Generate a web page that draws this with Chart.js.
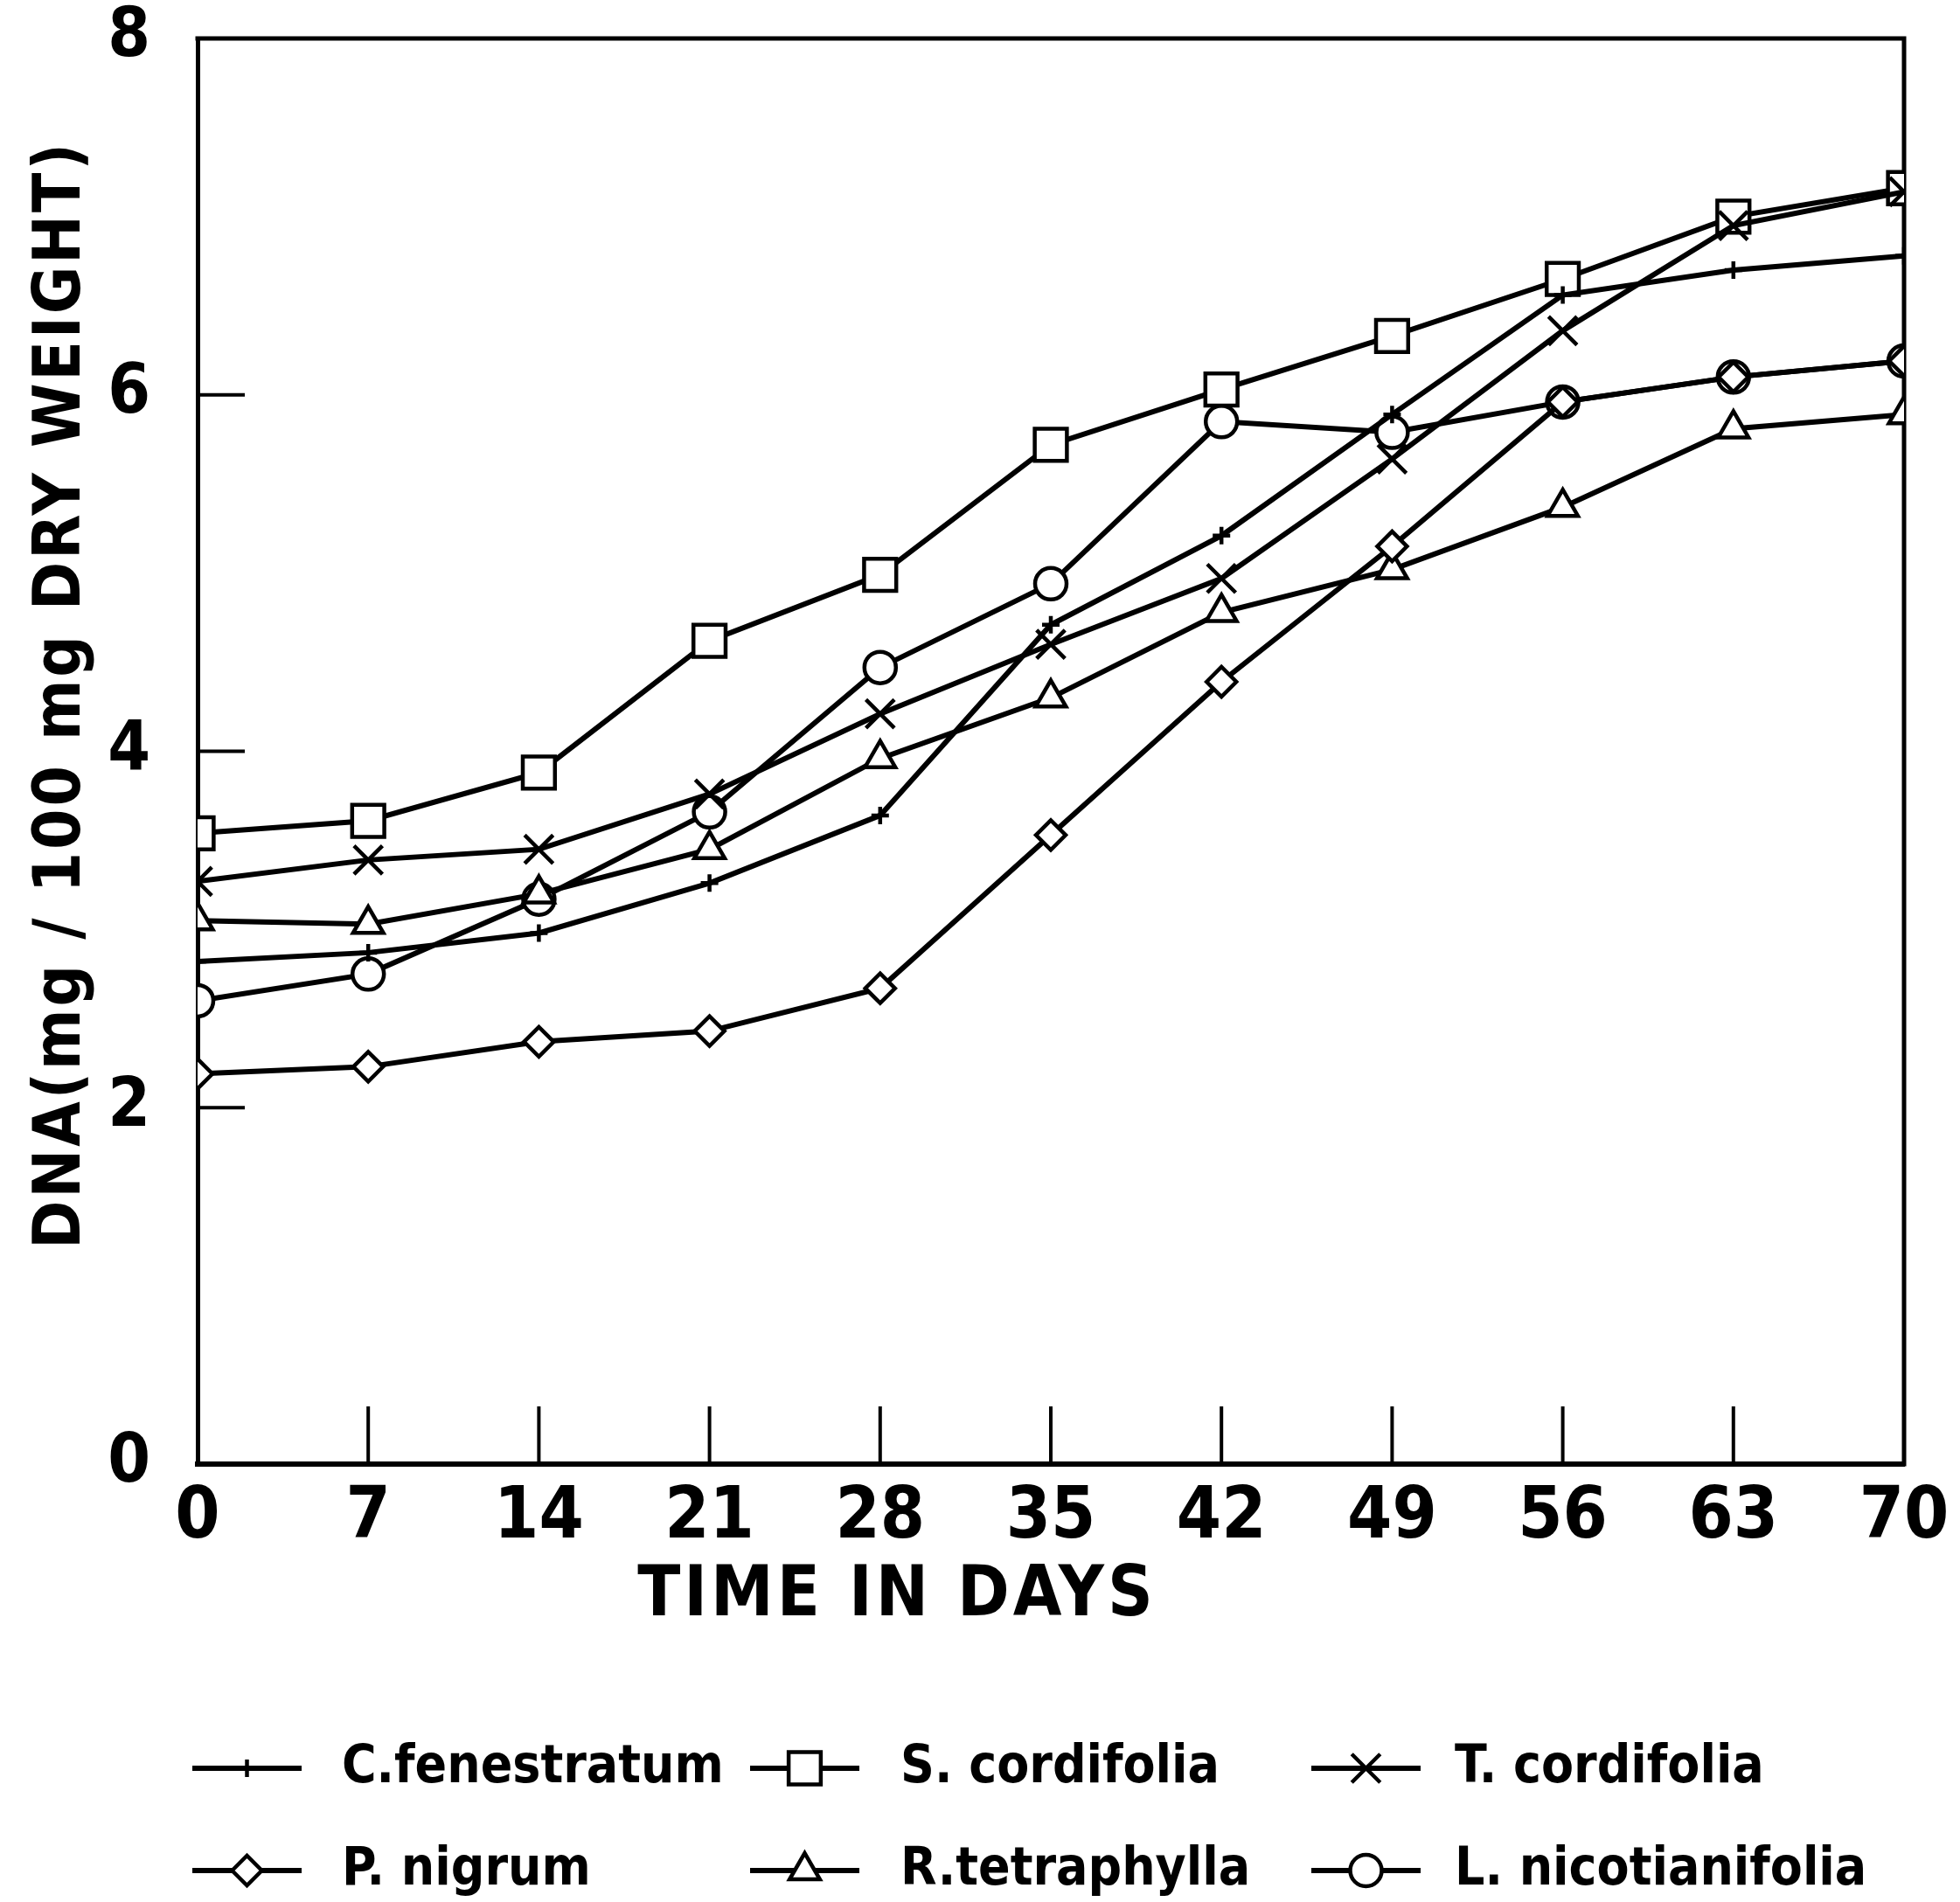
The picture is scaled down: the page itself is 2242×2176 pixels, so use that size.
<!DOCTYPE html>
<html>
<head>
<meta charset="utf-8">
<script src="https://cdn.jsdelivr.net/npm/chart.js@4.4.0/dist/chart.umd.min.js"></script>
<style>
  html, body { margin: 0; padding: 0; background: #fff; }
</style>
</head>
<body>
<canvas id="myChart" width="2242" height="2176"></canvas>
<script>
// values
const days = [0, 7, 14, 21, 28, 35, 42, 49, 56, 63, 70];
const cFenestratum = [2.82, 2.87, 2.98, 3.26, 3.64, 4.71, 5.21, 5.89, 6.56, 6.70, 6.78];
const sCordifolia = [3.54, 3.61, 3.88, 4.62, 4.99, 5.72, 6.03, 6.33, 6.65, 7.00, 7.16];
const tCordifolia = [3.27, 3.39, 3.45, 3.76, 4.21, 4.60, 4.97, 5.64, 6.36, 6.95, 7.14];
const pNigrum = [2.19, 2.23, 2.37, 2.43, 2.67, 3.53, 4.39, 5.15, 5.96, 6.10, 6.19];
const rTetraphylla = [3.05, 3.03, 3.20, 3.45, 3.96, 4.30, 4.78, 5.02, 5.37, 5.81, 5.89];
const lNicotianifolia = [2.60, 2.75, 3.17, 3.66, 4.47, 4.94, 5.85, 5.79, 5.96, 6.10, 6.19];

const seriesNames = ['C.fenestratum', 'S. cordifolia', 'T. cordifolia', 'P. nigrum', 'R.tetraphylla', 'L. nicotianifolia'];
const yTicks = [0, 2, 4, 6, 8];
const xTitle = 'TIME IN DAYS';
const yTitle = 'DNA(mg / 100 mg DRY WEIGHT)';

const FONT = '"DejaVu Sans Condensed", "DejaVu Sans", sans-serif';

function pts(values) {
    return days.map((d, i) => ({ x: d, y: values[i] }));
}

function series(label, values, pointStyle, radius, order) {
    return {
        label: label,
        data: pts(values),
        borderColor: '#000',
        borderWidth: 6,
        pointStyle: pointStyle,
        pointRadius: radius,
        pointHoverRadius: radius,
        pointBackgroundColor: '#fff',
        pointBorderColor: '#000',
        pointBorderWidth: 4.5,
        tension: 0,
        order: order
    };
}

const datasets = [
    series(seriesNames[0], cFenestratum, 'cross', 10, 0),
    series(seriesNames[1], sCordifolia, 'rect', 26, 0),
    series(seriesNames[2], tCordifolia, 'crossRot', 23, -1),
    series(seriesNames[3], pNigrum, 'rectRot', 17, 0),
    series(seriesNames[4], rTetraphylla, 'triangle', 20, 0),
    series(seriesNames[5], lNicotianifolia, 'circle', 18, 0)
];

const framePlugin = {
    id: 'frame',
    beforeDatasetsDraw(chart) {
        const { ctx, chartArea: a, scales: { x, y } } = chart;
        ctx.save();
        ctx.strokeStyle = '#000';
        ctx.lineCap = 'square';
        ctx.lineWidth = 5;
        ctx.beginPath();
        ctx.moveTo(a.left, a.top);
        ctx.lineTo(a.right, a.top);
        ctx.lineTo(a.right, a.bottom);
        ctx.stroke();

        // short ticks pointing into the plot
        ctx.lineWidth = 4;
        ctx.lineCap = 'butt';
        ctx.beginPath();
        yTicks.slice(1, -1).forEach(v => {
            const py = y.getPixelForValue(v);
            ctx.moveTo(a.left, py);
            ctx.lineTo(a.left + 54, py);
        });
        days.slice(1, -1).forEach(v => {
            const px = x.getPixelForValue(v);
            ctx.moveTo(px, a.bottom);
            ctx.lineTo(px, a.bottom - 66);
        });
        ctx.stroke();
        ctx.restore();
    },
    afterDraw(chart) {
        const ctx = chart.ctx;
        ctx.save();
        ctx.fillStyle = '#000';
        ctx.textBaseline = 'middle';

        // axis titles
        ctx.textAlign = 'center';
        ctx.font = 'bold 80px ' + FONT;
        ctx.letterSpacing = '4px';
        ctx.fillText(xTitle, 1026, 1827);
        ctx.save();
        ctx.translate(72, 795);
        ctx.rotate(-Math.PI / 2);
        ctx.font = 'bold 74px ' + FONT;
        ctx.letterSpacing = '3px';
        ctx.fillText(yTitle, 0, 0);
        ctx.restore();

        // legend: two rows of three
        const sampleX = [220, 858, 1500];
        const textX = [391, 1030, 1664];
        const rowY = [2023, 2140];
        const sampleW = 125;
        ctx.textAlign = 'left';
        ctx.letterSpacing = '0px';
        ctx.font = 'bold 60px ' + FONT;
        chart.data.datasets.forEach((ds, i) => {
            const row = Math.floor(i / 3), col = i % 3;
            const y0 = rowY[row], x0 = sampleX[col];
            ctx.strokeStyle = '#000';
            ctx.lineWidth = 6;
            ctx.beginPath();
            ctx.moveTo(x0, y0);
            ctx.lineTo(x0 + sampleW, y0);
            ctx.stroke();
            ctx.fillStyle = '#fff';
            ctx.lineWidth = 4.5;
            Chart.helpers.drawPoint(ctx, {
                pointStyle: ds.pointStyle,
                radius: ds.pointRadius,
                rotation: 0,
                borderWidth: 4.5
            }, x0 + sampleW / 2, y0);
            ctx.fillStyle = '#000';
            ctx.fillText(ds.label, textX[col], y0);
        });
        ctx.restore();
    }
};

const ctx = document.getElementById('myChart').getContext('2d');
const myChart = new Chart(ctx, {
    type: 'line',
    data: { datasets: datasets },
    options: {
        responsive: false,
        animation: false,
        layout: { padding: { left: 0, right: 64, top: 44, bottom: 381 } },
        plugins: {
            legend: { display: false },
            tooltip: { enabled: false }
        },
        scales: {
            x: {
                type: 'linear',
                min: 0,
                max: 70,
                afterBuildTicks: s => { s.ticks = days.map(v => ({ value: v })); },
                afterFit: s => { s.height = 120; s.paddingLeft = 0; s.paddingRight = 0; },
                grid: { display: false, drawTicks: false },
                border: { display: true, color: '#000', width: 6 },
                ticks: {
                    color: '#000',
                    autoSkip: false,
                    maxRotation: 0,
                    padding: 14,
                    font: { family: FONT, size: 82, weight: 'bold' }
                }
            },
            y: {
                min: 0,
                max: 8,
                afterBuildTicks: s => { s.ticks = yTicks.map(v => ({ value: v })); },
                afterFit: s => { s.width = 226; s.paddingTop = 0; s.paddingBottom = 0; },
                grid: { display: false, drawTicks: false },
                border: { display: true, color: '#000', width: 5 },
                ticks: {
                    color: '#000',
                    padding: 54,
                    font: { family: FONT, size: 78, weight: 'bold' }
                }
            }
        }
    },
    plugins: [framePlugin]
});
</script>
</body>
</html>
